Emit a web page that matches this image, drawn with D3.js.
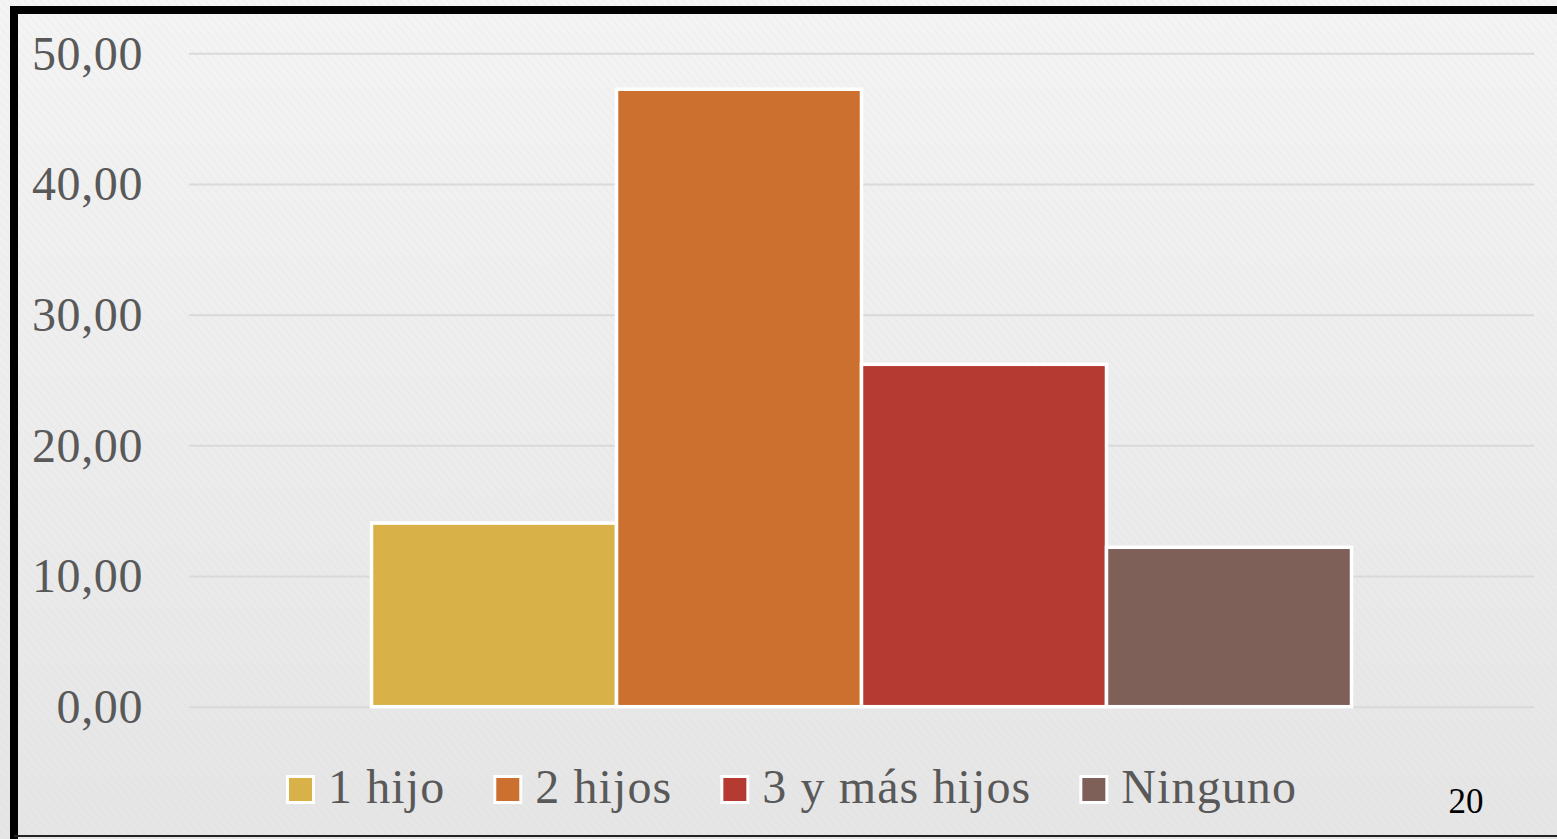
<!DOCTYPE html>
<html>
<head>
<meta charset="utf-8">
<script src="https://cdn.jsdelivr.net/npm/d3@7"></script>
<style>
html,body{margin:0;padding:0;overflow:hidden;background:#ececec;}
svg{display:block;}
</style>
</head>
<body>
<svg id="chart" width="1557" height="839"></svg>
<script>
// ---- data ----
const series = ["1 hijo", "2 hijos", "3 y más hijos", "Ninguno"];
const values = [14.05, 47.25, 26.2, 12.2];
const colors = ["#D8B148", "#CB702E", "#B53A32", "#7F6058"];
const yTicks = [0, 10, 20, 30, 40, 50];
const yTickLabels = ["0,00", "10,00", "20,00", "30,00", "40,00", "50,00"];
const pageNumber = "20";

const W = 1557, H = 839;
const svg = d3.select("#chart");
const defs = svg.append("defs");

const grad = defs.append("linearGradient").attr("id", "bg").attr("x1", 0).attr("y1", 0).attr("x2", 0).attr("y2", 1);
grad.append("stop").attr("offset", "0%").attr("stop-color", "#f4f4f4");
grad.append("stop").attr("offset", "100%").attr("stop-color", "#e5e5e5");

const pat = defs.append("pattern").attr("id", "tex").attr("width", 6).attr("height", 6)
  .attr("patternUnits", "userSpaceOnUse").attr("patternTransform", "rotate(-40)");
pat.append("line").attr("x1", 0).attr("y1", 0).attr("x2", 0).attr("y2", 6)
  .attr("stroke", "#d0d0d0").attr("stroke-width", 1).attr("opacity", 0.35);

svg.append("rect").attr("width", W).attr("height", H).attr("fill", "url(#bg)");
svg.append("rect").attr("width", W).attr("height", H).attr("fill", "url(#tex)");

// frame
svg.append("path")
  .attr("d", `M14,${H + 5} L14,10 L${W + 5},10`)
  .attr("fill", "none").attr("stroke", "#000").attr("stroke-width", 8);
svg.append("line").attr("x1", 14).attr("x2", W).attr("y1", 836).attr("y2", 836)
  .attr("stroke", "#222").attr("stroke-width", 2);

const serif = "'Liberation Serif', 'Times New Roman', serif";

// scales
const plotLeft = 189, plotRight = 1534;
const y = d3.scaleLinear().domain([0, 50]).range([706.7, 53.3]);
const x = d3.scaleBand().domain(series).range([371.5, 1351.5]).paddingInner(0).paddingOuter(0);

// grid
const yAxis = d3.axisLeft(y).tickValues(yTicks).tickSize(-(plotRight - plotLeft))
  .tickFormat((d, i) => yTickLabels[i]);
const gAxis = svg.append("g").attr("transform", `translate(${plotLeft},0)`).call(yAxis);
gAxis.select(".domain").remove();
gAxis.selectAll(".tick line").attr("stroke", "#d9d9d9").attr("stroke-width", 2);
gAxis.selectAll(".tick text")
  .attr("x", -46).attr("dy", "0.33em")
  .attr("fill", "#595959")
  .style("font-family", serif)
  .style("letter-spacing", "0.6px")
  .style("font-size", "48px");

// bars
svg.append("g").selectAll("rect").data(series).join("rect")
  .attr("x", d => x(d))
  .attr("width", x.bandwidth())
  .attr("y", (d, i) => y(values[i]))
  .attr("height", (d, i) => y(0) - y(values[i]))
  .attr("fill", (d, i) => colors[i])
  .attr("stroke", "#fff").attr("stroke-width", 3.5);

// legend
const legend = svg.append("g");
let lx = 286;
const ly = 775;
series.forEach((s, i) => {
  const g = legend.append("g");
  g.append("rect").attr("x", lx + 1.5).attr("y", ly + 1.5).attr("width", 26).attr("height", 26)
    .attr("fill", colors[i]).attr("stroke", "#fff").attr("stroke-width", 3);
  const t = g.append("text").attr("x", lx + 42).attr("y", 803)
    .attr("fill", "#595959")
    .style("font-family", serif)
    .style("letter-spacing", "1.1px")
    .style("font-size", "48px").text(s);
  const w = t.node().getComputedTextLength();
  lx = lx + 42 + w + 48;
});

// page number
svg.append("text").attr("x", 1466).attr("y", 813).attr("text-anchor", "middle")
  .attr("fill", "#000")
  .style("font-family", serif)
  .style("font-size", "35px").text(pageNumber);
</script>
</body>
</html>
